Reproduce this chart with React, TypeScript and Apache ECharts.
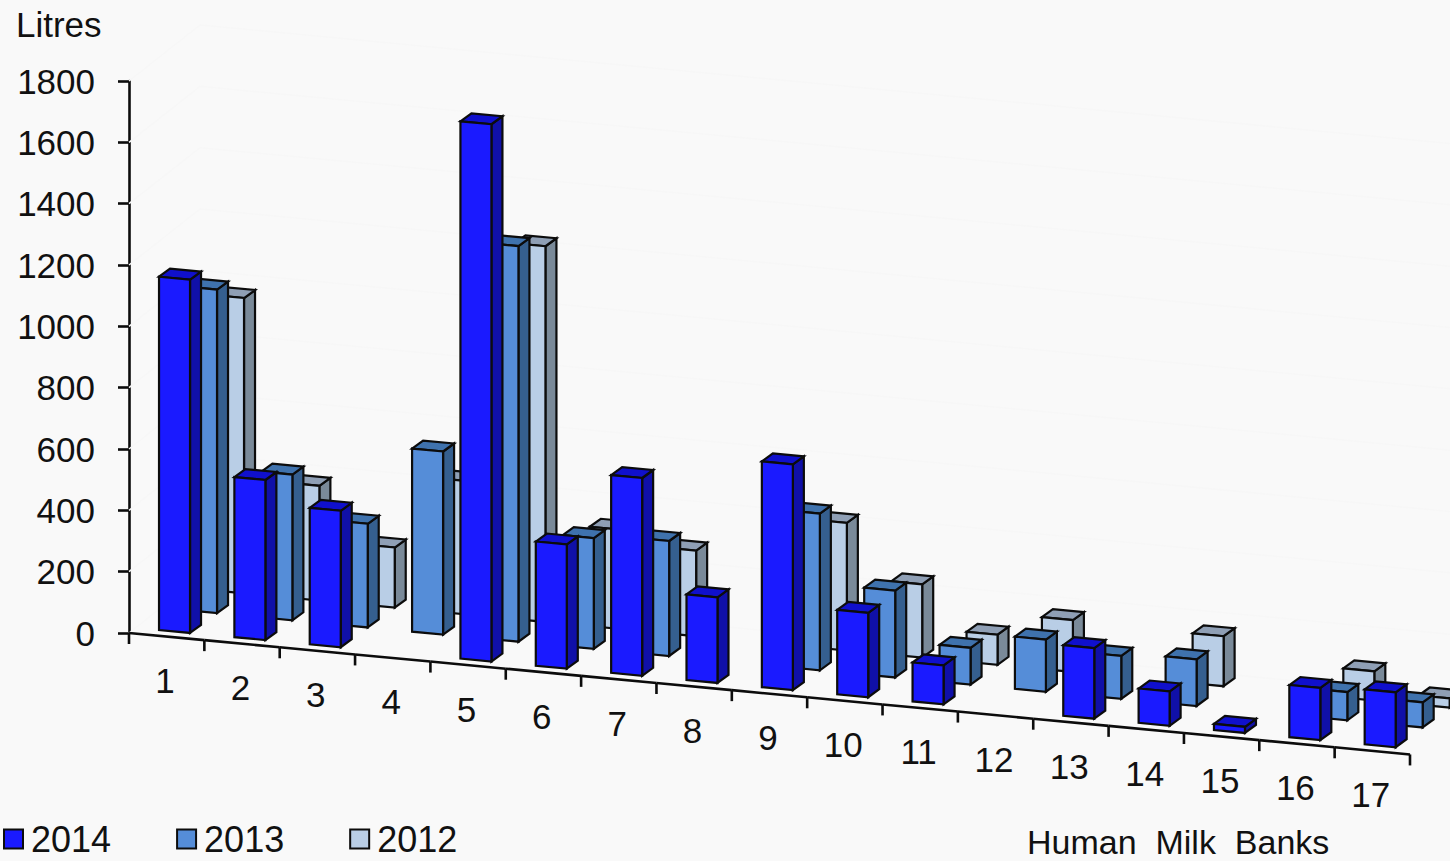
import React, { useEffect, useRef } from "react";
import * as echarts from "echarts";

const categories = ["1", "2", "3", "4", "5", "6", "7", "8", "9", "10", "11", "12", "13", "14", "15", "16", "17"];
const years = ["2014", "2013", "2012"];
const litres2014 = [1152, 522, 445, 0, 1752, 405, 645, 279, 736, 275, 127, 0, 230, 112, 20, 170, 179];
const litres2013 = [1055, 475, 338, 597, 1290, 361, 375, 0, 511, 283, 120, 170, 140, 152, 0, 92, 82];
const litres2012 = [963, 374, 196, 435, 1225, 324, 279, 0, 416, 239, 98, 169, 0, 163, 0, 95, 30];
const yTicks = [0, 200, 400, 600, 800, 1000, 1200, 1400, 1600, 1800];

const FONT = '"Liberation Sans", Arial, sans-serif';
const TEXT = "#111";
const EDGE = "#0c0c0c";

// Oblique projection: the floor falls to the right, each row steps back and up.
const FLOOR_SLOPE = 0.0948;
const ROW_DX = 27;
const ROW_DY = -19.8;
const BAR_W = 31;
const SIDE_DX = 11;
const SIDE_DY = -8;

const faces = [
  { front: "#1a1aff", side: "#1010a8", top: "#1010cc" },
  { front: "#558dd8", side: "#355f8f", top: "#3f72ad" },
  { front: "#b9cee6", side: "#7a8a99", top: "#8f9fb5" },
];

function barSeries(name: string, values: number[], row: number) {
  const c = faces[row];
  return {
    type: "custom",
    name,
    itemStyle: { color: c.front },
    data: values.map((v, i) => [i, v]),
    encode: { x: 0, y: 1 },
    renderItem: (_: any, api: any) => {
      const i = api.value(0);
      const v = api.value(1);
      if (!v) return null;
      const [cx, y0] = api.coord([i, 0]);
      const top = api.coord([i, v])[1];
      const band = api.size([1, 0])[0];
      const originX = cx - (i + 0.5) * band;
      const xl = cx - 7.65;
      const yb = y0 + FLOOR_SLOPE * (xl - originX) - 5.84;
      const h = y0 - top;
      const L = xl + ROW_DX * row;
      const R = L + BAR_W;
      const B = yb + ROW_DY * row;
      const B2 = B + FLOOR_SLOPE * BAR_W;
      const stroke = { stroke: EDGE, lineWidth: 2.2, lineJoin: "miter" };
      const poly = (points: number[][], fill: string) => ({
        type: "polygon",
        shape: { points },
        style: { fill, ...stroke },
      });
      return {
        type: "group",
        children: [
          poly(
            [
              [R, B2 - h],
              [R + SIDE_DX, B2 - h + SIDE_DY],
              [R + SIDE_DX, B2 + SIDE_DY],
              [R, B2],
            ],
            c.side,
          ),
          poly(
            [
              [L, B - h],
              [L + SIDE_DX, B - h + SIDE_DY],
              [R + SIDE_DX, B2 - h + SIDE_DY],
              [R, B2 - h],
            ],
            c.top,
          ),
          poly(
            [
              [L, B - h],
              [R, B2 - h],
              [R, B2],
              [L, B],
            ],
            c.front,
          ),
        ],
      };
    },
  };
}

// Barely visible wall lines behind the bars.
const wallSeries = {
  type: "custom",
  silent: true,
  data: yTicks.map((v) => [0, v]),
  encode: { x: 0, y: 1 },
  renderItem: (_: any, api: any) => {
    const [cx, y] = api.coord([0, api.value(1)]);
    const left = cx - api.size([1, 0])[0] / 2;
    const elbowX = left + 71;
    const elbowY = y - 56;
    const endX = left + 1340;
    return {
      type: "polyline",
      shape: {
        points: [
          [left, y],
          [elbowX, elbowY],
          [endX, elbowY + FLOOR_SLOPE * (endX - elbowX)],
        ],
      },
      style: { fill: "none", stroke: "#f7f7f7", lineWidth: 1.5 },
    };
  },
};

// Sloped category axis with its ticks and labels.
const floorAxisSeries = {
  type: "custom",
  silent: true,
  data: categories.map((_, i) => [i, 0]),
  encode: { x: 0, y: 1 },
  renderItem: (_: any, api: any) => {
    const i = api.value(0);
    const [cx, y0] = api.coord([i, 0]);
    const band = api.size([1, 0])[0];
    const originX = cx - (i + 0.5) * band;
    const a = cx - band / 2;
    const b = cx + band / 2;
    const ya = y0 + FLOOR_SLOPE * (a - originX);
    const yb = y0 + FLOOR_SLOPE * (b - originX);
    const axisStyle = { stroke: EDGE, lineWidth: 2.6 };
    const children: any[] = [
      { type: "line", shape: { x1: a, y1: ya, x2: b, y2: yb }, style: axisStyle },
      { type: "line", shape: { x1: a, y1: ya, x2: a, y2: ya + 11 }, style: axisStyle },
      {
        type: "text",
        style: {
          text: categories[i],
          x: cx - 1.6,
          y: ya + 47.5,
          textAlign: "center",
          textVerticalAlign: "middle",
          font: `35px ${FONT}`,
          fill: TEXT,
        },
      },
    ];
    if (i === categories.length - 1) {
      children.push({ type: "line", shape: { x1: b, y1: yb, x2: b, y2: yb + 11 }, style: axisStyle });
    }
    return { type: "group", children };
  },
};

export default function App() {
  const ref = useRef<HTMLDivElement>(null);

  useEffect(() => {
    const chart = echarts.init(ref.current!, null, { renderer: "svg" });
    chart.setOption({
      animation: false,
      backgroundColor: "#f9f9f9",
      grid: { left: 129, top: 81, width: 1281, height: 552, containLabel: false },
      xAxis: { type: "category", data: categories, show: false },
      yAxis: {
        type: "value",
        min: 0,
        max: 1800,
        interval: 200,
        splitLine: { show: false },
        axisLine: { show: true, lineStyle: { color: EDGE, width: 2.6 } },
        axisTick: { show: true, length: 11, lineStyle: { color: EDGE, width: 2.6 } },
        axisLabel: {
          fontFamily: FONT,
          fontSize: 35,
          color: TEXT,
          margin: 34,
          formatter: (v: number) => String(v),
        },
      },
      legend: {
        data: years,
        left: 3,
        top: 821,
        padding: 0,
        icon: "rect",
        itemWidth: 19,
        itemHeight: 19,
        itemGap: 65,
        selectedMode: false,
        itemStyle: { borderColor: EDGE, borderWidth: 2 },
        textStyle: { fontFamily: FONT, fontSize: 36, color: TEXT, padding: [0, 0, 0, 3] },
      },
      graphic: [
        {
          type: "text",
          left: 16,
          top: 7,
          style: { text: "Litres", font: `35px ${FONT}`, fill: TEXT },
        },
        {
          type: "text",
          left: 1027,
          top: 825,
          style: { text: "Human  Milk  Banks", font: `34px ${FONT}`, fill: TEXT },
        },
      ],
      series: [
        wallSeries,
        floorAxisSeries,
        barSeries(years[2], litres2012, 2),
        barSeries(years[1], litres2013, 1),
        barSeries(years[0], litres2014, 0),
      ],
    });
    return () => chart.dispose();
  }, []);

  return <div ref={ref} style={{ position: "absolute", left: 0, top: 0, width: 1450, height: 861 }} />;
}
